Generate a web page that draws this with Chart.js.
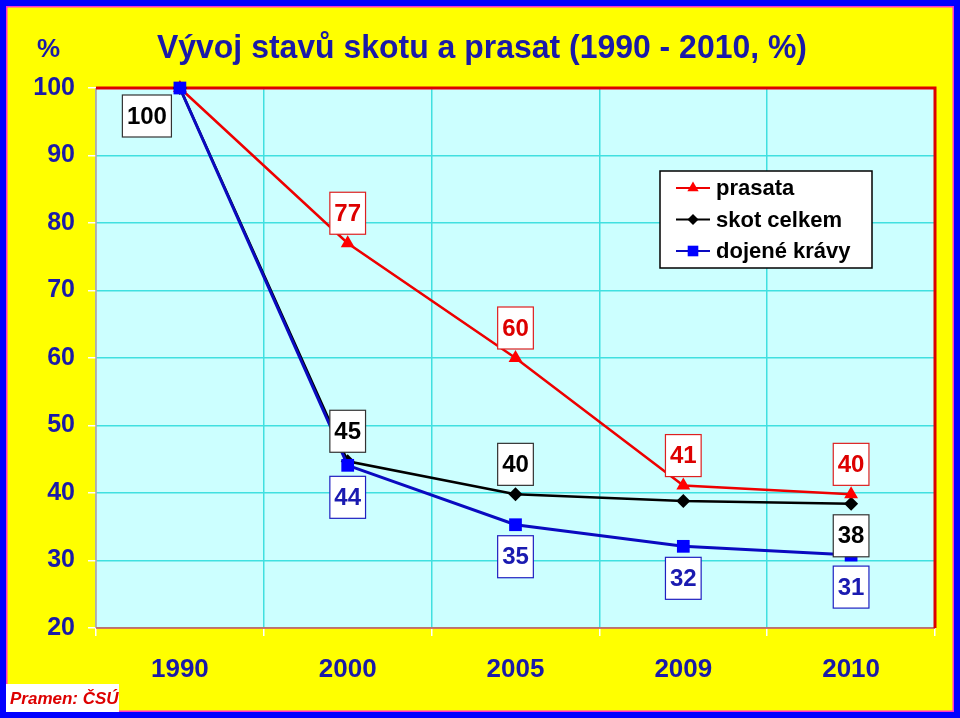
<!DOCTYPE html>
<html>
<head>
<meta charset="utf-8">
<script src="https://cdn.jsdelivr.net/npm/chart.js@4/dist/chart.umd.min.js"></script>
<style>
  html, body { margin: 0; padding: 0; background: #ffff00; }
  #obal { width: 960px; height: 718px; }
</style>
</head>
<body>
<div id="obal"><canvas id="graf"></canvas></div>
<script>
// data (index 1990 = 100)
var roky = ['1990', '2000', '2005', '2009', '2010'];
var prasata = [100, 77, 60, 41.1, 39.8];
var skot = [100, 44.7, 39.8, 38.8, 38.4];
var kravy = [100, 44.1, 35.3, 32.1, 30.8];
var osaY = [20, 30, 40, 50, 60, 70, 80, 90, 100];

var modra = '#1a1aa8';

// kde je popisek u bodu: n = nad, d = pod, l = vlevo dole, null = nic
var popisky = [
  [null, 'n', 'n', 'n', 'n'],
  ['l', 'n', 'n', null, 'd'],
  [null, 'd', 'd', 'd', 'd']
];

var pozadi = {
  id: 'pozadi',
  beforeDraw: function (chart) {
    var ctx = chart.ctx, ca = chart.chartArea;
    ctx.save();
    ctx.fillStyle = '#ffff00';
    ctx.fillRect(0, 0, chart.width, chart.height);
    ctx.fillStyle = '#ccffff';
    ctx.fillRect(ca.left, ca.top, ca.right - ca.left, ca.bottom - ca.top);
    ctx.restore();
  },
  beforeDatasetsDraw: function (chart) {
    // rámeček grafu
    var ctx = chart.ctx, ca = chart.chartArea;
    ctx.save();
    ctx.lineWidth = 1.5;
    ctx.strokeStyle = '#c8a0a0';
    ctx.beginPath();
    ctx.moveTo(ca.left, ca.top);
    ctx.lineTo(ca.left, ca.bottom);
    ctx.stroke();
    ctx.strokeStyle = '#e05050';
    ctx.beginPath();
    ctx.moveTo(ca.left, ca.bottom);
    ctx.lineTo(ca.right, ca.bottom);
    ctx.stroke();
    ctx.lineWidth = 3;
    ctx.strokeStyle = '#dd0000';
    ctx.beginPath();
    ctx.moveTo(ca.left, ca.top);
    ctx.lineTo(ca.right, ca.top);
    ctx.lineTo(ca.right, ca.bottom);
    ctx.stroke();
    ctx.restore();
  },
  afterDraw: function (chart) {
    var ctx = chart.ctx, ca = chart.chartArea;
    ctx.save();

    // popisky hodnot
    ctx.font = 'bold 24px "Liberation Sans", Arial, sans-serif';
    ctx.textAlign = 'center';
    ctx.textBaseline = 'middle';
    chart.data.datasets.forEach(function (ds, i) {
      var meta = chart.getDatasetMeta(i);
      meta.data.forEach(function (el, j) {
        var kde = popisky[i][j];
        if (!kde) return;
        var cx = el.x, cy = el.y;
        if (kde === 'n') cy -= 30;
        if (kde === 'd') cy += 32;
        if (kde === 'l') { cx -= 33; cy += 28; }
        var txt = String(Math.round(ds.data[j]));
        var w = ctx.measureText(txt).width + 9, h = 42;
        ctx.fillStyle = '#ffffff';
        ctx.fillRect(cx - w / 2, cy - h / 2, w, h);
        ctx.lineWidth = 1.2;
        ctx.strokeStyle = ds.ramecek;
        ctx.strokeRect(cx - w / 2, cy - h / 2, w, h);
        ctx.fillStyle = ds.textBarva;
        ctx.fillText(txt, cx, cy + 1);
      });
    });

    // legenda
    var lx = ca.right - 275, ly = ca.top + 83;
    ctx.fillStyle = '#ffffff';
    ctx.fillRect(lx, ly, 212, 97);
    ctx.lineWidth = 1.5;
    ctx.strokeStyle = '#000000';
    ctx.strokeRect(lx, ly, 212, 97);
    ctx.font = 'bold 22px "Liberation Sans", Arial, sans-serif';
    ctx.textAlign = 'left';
    chart.data.datasets.forEach(function (ds, i) {
      var y = ly + 17 + i * 31.5;
      ctx.strokeStyle = ds.borderColor;
      ctx.lineWidth = 2;
      ctx.beginPath();
      ctx.moveTo(lx + 16, y);
      ctx.lineTo(lx + 50, y);
      ctx.stroke();
      ctx.fillStyle = ds.pointBackgroundColor;
      ctx.strokeStyle = ds.pointBackgroundColor;
      Chart.helpers.drawPoint(ctx, { pointStyle: ds.pointStyle, rotation: 0, radius: ds.pointRadius - 1.5, borderWidth: 0 }, lx + 33, y);
      ctx.fillStyle = '#000000';
      ctx.fillText(ds.label, lx + 56, y + 1);
    });

    // nadpis
    ctx.fillStyle = modra;
    ctx.textBaseline = 'alphabetic';
    ctx.font = 'bold 34px "Liberation Sans Narrow", "Liberation Sans", Arial, sans-serif';
    var nadpis = 'Vývoj stavů skotu a prasat (1990 - 2010, %)';
    var tw = ctx.measureText(nadpis).width;
    ctx.save();
    ctx.translate(157, 58);
    ctx.scale(650 / tw, 1);
    ctx.fillText(nadpis, 0, 0);
    ctx.restore();
    ctx.font = 'bold 26px "Liberation Sans", Arial, sans-serif';
    ctx.fillText('%', 37, 57);

    // okraj
    ctx.strokeStyle = '#0000ff';
    ctx.lineWidth = 6;
    ctx.strokeRect(3, 3, chart.width - 6, chart.height - 6);
    ctx.strokeStyle = '#ff33cc';
    ctx.lineWidth = 1.5;
    ctx.strokeRect(6.75, 6.75, chart.width - 13.5, chart.height - 13.5);

    // zdroj
    ctx.fillStyle = '#ffffff';
    ctx.fillRect(6, 684, 113, 28);
    ctx.fillStyle = '#dd0000';
    ctx.font = 'italic bold 17px "Liberation Sans", Arial, sans-serif';
    ctx.textBaseline = 'middle';
    ctx.fillText('Pramen: ČSÚ', 10, 699);
    ctx.restore();
  }
};

var data = {
  labels: roky,
  datasets: [{
    label: 'prasata',
    data: prasata,
    order: 1,
    borderColor: '#ee0000',
    borderWidth: 2.5,
    pointStyle: 'triangle',
    pointRadius: 8,
    pointBackgroundColor: '#ff0000',
    pointBorderWidth: 0,
    ramecek: '#dd2020',
    textBarva: '#dd0000'
  }, {
    label: 'skot celkem',
    data: skot,
    order: 2,
    borderColor: '#000000',
    borderWidth: 2.5,
    pointStyle: 'rectRot',
    pointRadius: 7,
    pointBackgroundColor: '#000000',
    pointBorderWidth: 0,
    ramecek: '#333333',
    textBarva: '#000000'
  }, {
    label: 'dojené krávy',
    data: kravy,
    order: 0,
    borderColor: '#0a0ac0',
    borderWidth: 3,
    pointStyle: 'rect',
    pointRadius: 9,
    pointBackgroundColor: '#0000ff',
    pointBorderWidth: 0,
    ramecek: '#2020c0',
    textBarva: '#1a1ab0'
  }]
};

var options = {
  responsive: true,
  maintainAspectRatio: false,
  devicePixelRatio: 1,
  animation: false,
  layout: { padding: { left: 0, top: 88, right: 25, bottom: 0 } },
  plugins: {
    legend: { display: false },
    tooltip: { enabled: false }
  },
  elements: { line: { tension: 0 } },
  datasets: { line: { clip: false } },
  scales: {
    x: {
      offset: true,
      border: { display: false },
      grid: { offset: true, color: '#40e0e0', lineWidth: 1.5, tickColor: '#ffffff', tickLength: 8 },
      ticks: { color: modra, font: { family: '"Liberation Sans", Arial', size: 26, weight: 'bold' }, padding: 18, maxRotation: 0 },
      afterFit: function (s) { s.height = 90; }
    },
    y: {
      min: 20,
      max: 100,
      border: { display: false },
      grid: { color: '#40e0e0', lineWidth: 1.5, tickColor: '#ffffff', tickLength: 8 },
      ticks: { color: modra, font: { family: '"Liberation Sans", Arial', size: 25, weight: 'bold' }, padding: 13 },
      afterBuildTicks: function (s) { s.ticks = osaY.map(function (v) { return { value: v }; }); },
      afterFit: function (s) { s.width = 96; }
    }
  }
};

var graf = new Chart(document.getElementById('graf'), {
  type: 'line',
  data: data,
  options: options,
  plugins: [pozadi]
});
</script>
</body>
</html>
